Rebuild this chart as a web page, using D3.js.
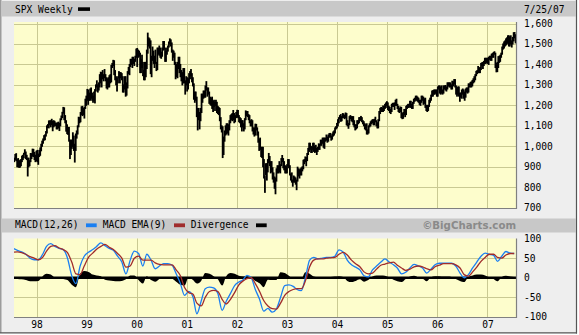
<!DOCTYPE html>
<html>
<head>
<meta charset="utf-8">
<script src="https://cdn.jsdelivr.net/npm/d3@7/dist/d3.min.js"></script>
<style>
  html, body { margin: 0; padding: 0; background: #ffffff; }
  svg { display: block; }
  text { font-family: "DejaVu Sans Mono", monospace; font-size: 9.6px; fill: #000; }
</style>
</head>
<body>
<svg id="chart" width="579" height="335"></svg>
<script>
// Weekly high / low of the S&P 500, one entry per week (weeks ending Fri 7/25/97 ... 7/27/07)
const weeklyHigh = [
  // 1997
  942,960,964,935,940,928,932,935,952,956,966,983,972,956,942,942,930,965,964,986,985,970,956,
  // 1998
  976,980,962,980,992,1010,1025,1036,1052,1056,1072,1100,1106,1124,1124,1125,1132,1122,1125,1122,1114,1112,
  1115,1118,1112,1134,1148,1166,1190,1188,1150,1125,1105,1092,1092,1030,1030,1030,1066,1050,1010,1060,1075,
  1100,1142,1140,1165,1193,1195,1185,1190,1230,
  // 1999
  1245,1278,1275,1260,1280,1285,1260,1245,1265,1277,1300,1320,1300,1310,1350,1362,1360,1370,1350,1375,1350,
  1335,1330,1335,1345,1350,1395,1405,1420,1418,1370,1340,1330,1340,1365,1360,1360,1355,1340,1300,1340,1340,
  1310,1365,1385,1400,1425,1425,1435,1435,1425,1440,1475,
  // 2000
  1478,1470,1465,1455,1425,1445,1410,1370,1410,1410,1470,1553,1530,1525,1515,1440,1485,1465,1440,1470,1410,
  1480,1480,1490,1480,1460,1480,1512,1512,1480,1465,1480,1490,1510,1525,1520,1505,1470,1465,1455,1410,1400,
  1410,1435,1435,1400,1370,1360,1380,1380,1320,1340,
  // 2001
  1335,1330,1355,1365,1375,1355,1335,1305,1265,1265,1240,1185,1185,1165,1185,1255,1255,1270,1270,1295,1316,
  1285,1285,1265,1240,1235,1240,1220,1225,1215,1225,1215,1195,1190,1185,1140,1100,1095,1045,1075,1100,1110,
  1110,1105,1125,1150,1155,1160,1175,1160,1150,1165,
  // 2002
  1176,1175,1150,1140,1135,1125,1125,1110,1135,1173,1170,1170,1155,1150,1125,1130,1125,1090,1090,1108,1107,
  1090,1070,1035,1040,995,995,995,935,855,915,915,935,965,950,925,925,895,870,850,845,890,905,905,925,910,
  940,955,940,925,905,900,
  // 2003
  910,935,935,905,865,870,835,855,850,845,835,898,890,885,890,895,900,932,935,948,945,965,990,1015,1015,1000,
  995,1015,1015,1000,1005,990,995,1012,1010,1030,1030,1040,1040,1040,1040,1055,1045,1055,1062,1063,1050,1060,
  1070,1075,1090,1096,
  // 2004
  1112,1130,1140,1150,1155,1145,1160,1158,1151,1163,1160,1125,1112,1145,1150,1145,1145,1145,1125,1105,1105,
  1125,1125,1140,1140,1146,1140,1125,1120,1110,1105,1110,1080,1100,1110,1120,1125,1130,1130,1132,1142,1125,
  1115,1130,1170,1185,1190,1185,1197,1195,1205,1212,1218,
  // 2005
  1212,1195,1190,1180,1205,1210,1210,1212,1225,1230,1205,1195,1185,1192,1190,1160,1165,1180,1180,1195,1200,
  1205,1205,1220,1220,1205,1215,1230,1235,1245,1245,1240,1235,1225,1225,1245,1245,1240,1232,1235,1200,1200,
  1200,1225,1235,1250,1270,1272,1275,1275,1275,1275,
  // 2006
  1290,1295,1295,1290,1295,1275,1295,1295,1297,1290,1310,1310,1310,1310,1300,1318,1315,1326,1326,1295,1285,
  1290,1290,1260,1260,1275,1280,1275,1265,1280,1285,1285,1305,1305,1312,1315,1322,1330,1340,1350,1366,1370,
  1390,1382,1385,1405,1408,1410,1415,1430,1430,1430,
  // 2007
  1430,1435,1440,1440,1450,1453,1458,1462,1455,1405,1410,1438,1440,1445,1455,1485,1500,1510,1515,1525,1530,
  1540,1540,1535,1540,1515,1532,1555,1556,1545
];
const weeklyLow = [
  // 1997
  925,935,930,900,900,897,898,905,925,935,944,962,940,935,855,900,905,925,940,952,950,935,925,
  // 1998
  930,925,912,950,956,978,1000,1015,1030,1032,1050,1065,1092,1090,1105,1095,1105,1076,1095,1100,1102,1085,
  1085,1090,1077,1100,1130,1140,1162,1130,1115,1074,1062,1058,1025,940,960,990,1000,980,923,980,1040,
  1060,1095,1115,1120,1155,1150,1155,1138,1185,
  // 1999
  1200,1225,1205,1225,1225,1235,1225,1215,1225,1212,1270,1290,1265,1275,1290,1310,1290,1330,1320,1335,1320,
  1285,1280,1290,1290,1310,1315,1385,1395,1350,1325,1300,1270,1310,1335,1310,1335,1325,1265,1265,1280,1245,
  1250,1285,1355,1350,1390,1400,1385,1405,1395,1415,1435,
  // 2000
  1390,1435,1440,1360,1360,1385,1345,1325,1325,1340,1380,1455,1490,1480,1355,1340,1420,1405,1385,1405,1370,
  1375,1450,1445,1435,1430,1440,1470,1475,1415,1415,1450,1465,1485,1500,1490,1460,1420,1435,1400,1330,1340,
  1335,1380,1360,1340,1320,1300,1310,1310,1255,1300,
  // 2001
  1270,1280,1310,1330,1345,1315,1295,1230,1215,1225,1145,1080,1130,1085,1125,1165,1215,1235,1240,1240,1275,
  1245,1255,1210,1205,1200,1185,1170,1195,1175,1200,1165,1160,1155,1125,1085,1070,945,960,1025,1055,1060,
  1065,1055,1080,1115,1130,1125,1130,1115,1120,1140,
  // 2002
  1145,1140,1120,1115,1095,1075,1095,1075,1085,1130,1150,1145,1130,1115,1100,1100,1075,1060,1050,1055,1080,
  1055,1020,980,985,950,945,900,845,775,860,835,875,920,905,870,875,840,825,795,768,830,870,870,875,870,
  905,925,895,885,870,870,
  // 2003
  870,905,895,860,835,825,805,825,825,815,788,830,855,845,860,860,880,890,915,925,905,930,960,975,985,970,
  970,985,975,970,975,960,975,985,985,1005,1005,1015,995,990,1025,1030,1020,1025,1045,1045,1030,1035,
  1050,1055,1065,1085,
  // 2004
  1090,1100,1115,1135,1122,1125,1140,1140,1135,1140,1105,1100,1088,1105,1135,1125,1120,1105,1095,1080,1085,
  1090,1110,1115,1125,1130,1120,1110,1100,1085,1080,1060,1060,1065,1095,1100,1110,1115,1105,1105,1120,1100,
  1090,1090,1125,1160,1170,1170,1170,1175,1185,1190,1200,
  // 2005
  1180,1175,1165,1160,1170,1195,1195,1180,1200,1200,1185,1170,1165,1170,1140,1135,1137,1155,1145,1155,1185,
  1190,1190,1195,1190,1185,1185,1210,1220,1225,1225,1220,1215,1205,1200,1215,1225,1205,1210,1190,1175,1170,
  1175,1195,1215,1225,1245,1245,1255,1255,1260,1245,
  // 2006
  1245,1280,1260,1255,1260,1255,1260,1280,1275,1270,1280,1295,1290,1290,1280,1280,1295,1305,1290,1255,1245,
  1255,1245,1220,1240,1235,1255,1235,1225,1240,1265,1260,1265,1290,1290,1290,1295,1310,1315,1325,1345,1355,
  1360,1360,1360,1375,1395,1380,1395,1405,1405,1410,
  // 2007
  1405,1400,1425,1420,1420,1435,1435,1450,1385,1364,1365,1385,1410,1415,1435,1450,1475,1480,1490,1495,1500,
  1505,1490,1490,1500,1485,1500,1515,1530,1505
];

// Monthly MACD(12,26), its 9-period EMA and the divergence, mid-month Jul 1997 ... Jul 2007
const macdLine = [
  75,70,66,60,50,46,
  46,60,80,87,80,75,72,50,5,-15,30,55,
  65,72,80,89,82,75,70,55,40,10,45,68,
  62,30,60,45,23,30,36,36,32,10,-15,-45,
  -35,-50,-92,-60,-28,-24,-26,-40,-83,-60,-40,-20,
  -11,-5,6,0,-30,-55,-85,-78,-88,-80,-50,-20,
  -18,-22,-30,-33,0,45,52,48,50,52,52,55,
  71,65,45,33,27,20,5,2,20,30,40,48,
  40,33,25,10,14,25,34,30,25,12,22,33,
  37,37,37,37,30,12,0,8,25,40,55,63,
  60,57,42,55,67,63,62
];
const macdSignal = [
  65,66,64,60,54,50,
  46,52,68,80,82,76,72,64,40,10,8,30,
  52,63,73,80,85,78,72,62,50,27,30,50,
  55,45,45,45,38,34,33,33,33,20,5,-25,
  -38,-42,-65,-72,-50,-35,-32,-35,-55,-67,-55,-38,
  -18,-8,-2,0,-15,-35,-58,-72,-79,-80,-65,-45,
  -35,-30,-28,-28,-8,28,45,48,48,50,51,52,
  60,65,58,45,36,28,15,10,12,22,32,35,
  38,40,32,25,19,22,28,30,28,23,20,28,
  32,36,36,36,33,25,8,4,15,27,42,52,
  60,60,52,50,58,62,62
];
const macdDivergence = [
  -1,-3,-4,-6,-9,-9,
  -8,4,10,8,0,-2,-3,-6,-18,-24,10,17,
  15,8,6,4,-5,-7,-8,-9,-8,-4,6,6,
  -6,-15,4,-6,-10,-3,2,2,-2,-10,-18,-20,
  2,-6,-15,-8,12,10,4,-4,-20,4,12,10,
  5,3,4,0,-8,-14,-24,-5,-6,-6,14,12,
  5,-3,-3,-3,14,10,3,1,1,2,2,3,
  4,2,-8,-11,-8,-4,-10,-6,3,6,6,5,
  1,-5,-9,-11,-3,3,5,1,-2,-9,1,4,
  4,3,3,2,-3,-8,-11,2,6,8,8,6,
  1,-3,-9,2,5,3,2
];

const priceTicks = [1600,1500,1400,1300,1200,1100,1000,900,800,700];
const priceTickLabels = ["1,600","1,500","1,400","1,300","1,200","1,100","1,000","900","800","700"];
const macdTicks = [100,50,0,-50,-100];
const macdTickLabels = ["100","50","0","-50","-100"];
const yearStarts = [1998,1999,2000,2001,2002,2003,2004,2005,2006,2007];
const yearLabels = ["98","99","00","01","02","03","04","05","06","07"];

const svg = d3.select("#chart");

// panel frame
svg.append("rect").attr("x", 0).attr("y", 0).attr("width", 577).attr("height", 333).attr("fill", "#eeeeee");
svg.append("line").attr("x1", 0.75).attr("x2", 0.75).attr("y1", 0).attr("y2", 333).attr("stroke", "#9c9c9c").attr("stroke-width", 1.5);
svg.append("line").attr("x1", 576.5).attr("x2", 576.5).attr("y1", 0).attr("y2", 333.5).attr("stroke", "#555").attr("stroke-width", 1.2);
svg.append("line").attr("x1", 0).attr("x2", 577).attr("y1", 332.8).attr("y2", 332.8).attr("stroke", "#555").attr("stroke-width", 1.2);

// title bands
svg.append("rect").attr("x", 1.5).attr("y", 1).attr("width", 574.5).attr("height", 15.5).attr("fill", "#c8c8c8");
svg.append("rect").attr("x", 1.5).attr("y", 218.5).attr("width", 574.5).attr("height", 14).attr("fill", "#c8c8c8");

const left = 14, right = 516;
const priceTop = 22, priceBottom = 208;
const macdTop = 238.5, macdBottom = 317;

const x = d3.scaleTime()
  .domain([new Date(1997, 6, 21), new Date(2007, 6, 28)])
  .range([left, right]);
const yPrice = d3.scaleLinear().domain([700, 1600]).range([207.7, 23.5]);
const yMacd = d3.scaleLinear().domain([-100, 100]).range([316.9, 238.6]);

const gridColor = "#c9c993";

function plotFrame(top, bottom, yScale, ticks, id) {
  svg.append("rect").attr("x", left).attr("y", top).attr("width", right - left).attr("height", bottom - top)
    .attr("fill", "#fdfdcc");
  const g = svg.append("g");
  g.selectAll("line.h").data(ticks.filter(t => yScale(t) > top + 1 && yScale(t) < bottom - 1)).join("line")
    .attr("x1", left).attr("x2", right)
    .attr("y1", d => Math.round(yScale(d)) + 0.5).attr("y2", d => Math.round(yScale(d)) + 0.5)
    .attr("stroke", gridColor).attr("stroke-width", 1);
  g.selectAll("line.v").data(yearStarts).join("line")
    .attr("x1", d => Math.round(x(new Date(d, 0, 1))) + 0.5).attr("x2", d => Math.round(x(new Date(d, 0, 1))) + 0.5)
    .attr("y1", top).attr("y2", bottom)
    .attr("stroke", gridColor).attr("stroke-width", 1);
  svg.append("clipPath").attr("id", id).append("rect")
    .attr("x", left).attr("y", top).attr("width", right - left).attr("height", bottom - top);
}

function plotEdges(top, bottom) {
  svg.append("line").attr("x1", left).attr("x2", right + 1).attr("y1", bottom + 0.5).attr("y2", bottom + 0.5)
    .attr("stroke", "#808080").attr("stroke-width", 1.2);
  svg.append("line").attr("x1", right + 0.5).attr("x2", right + 0.5).attr("y1", top).attr("y2", bottom + 1)
    .attr("stroke", "#808080").attr("stroke-width", 1.2);
}

// price panel
plotFrame(priceTop, priceBottom, yPrice, priceTicks, "clipPrice");
const weekDates = weeklyHigh.map((_, i) => new Date(1997, 6, 23 + 7 * i));
svg.append("g").attr("clip-path", "url(#clipPrice)")
  .selectAll("rect").data(weeklyHigh).join("rect")
  .attr("x", (d, i) => x(weekDates[i]) - 0.9)
  .attr("width", 1.8)
  .attr("y", d => yPrice(d) - 0.5)
  .attr("height", (d, i) => Math.max(yPrice(weeklyLow[i]) - yPrice(d) + 1, 2))
  .attr("fill", "#000");
plotEdges(priceTop, priceBottom);

// MACD panel
plotFrame(macdTop, macdBottom, yMacd, [50, -50], "clipMacd");
const monthDates = macdLine.map((_, i) => new Date(1997, 6 + i, 15));
const gm = svg.append("g").attr("clip-path", "url(#clipMacd)");
gm.append("path")
  .datum(macdDivergence)
  .attr("d", d3.area().x((d, i) => x(monthDates[i])).y0(yMacd(0)).y1(d => yMacd(d)).curve(d3.curveMonotoneX))
  .attr("fill", "#000");
gm.append("line").attr("x1", left).attr("x2", right).attr("y1", yMacd(0)).attr("y2", yMacd(0))
  .attr("stroke", "#000").attr("stroke-width", 2.4);
const lineGen = d3.line().x((d, i) => x(monthDates[i])).y(d => yMacd(d)).curve(d3.curveMonotoneX);
gm.append("path").datum(macdLine).attr("d", lineGen)
  .attr("fill", "none").attr("stroke", "#1a7ff2").attr("stroke-width", 1.3);
gm.append("path").datum(macdSignal).attr("d", lineGen)
  .attr("fill", "none").attr("stroke", "#a02c2c").attr("stroke-width", 1.3);
plotEdges(macdTop, macdBottom);

// right-hand axes
svg.append("g").selectAll("text").data(priceTicks).join("text")
  .attr("x", 524).attr("y", d => yPrice(d) + 3.5)
  .text((d, i) => priceTickLabels[i]);
svg.append("g").selectAll("text").data(macdTicks).join("text")
  .attr("x", 524).attr("y", d => yMacd(d) + 3.5)
  .text((d, i) => macdTickLabels[i]);

// year axis
svg.append("g").selectAll("text").data(yearStarts).join("text")
  .attr("x", d => x(new Date(d, 0, 1)) + 0.5).attr("y", 327.6)
  .attr("text-anchor", "middle")
  .text((d, i) => yearLabels[i]);

// headers and legends
svg.append("text").attr("x", 15).attr("y", 12.8).text("SPX Weekly");
svg.append("rect").attr("x", 78).attr("y", 7.3).attr("width", 12).attr("height", 3.6).attr("fill", "#000");
svg.append("text").attr("x", 524).attr("y", 12.8).text("7/25/07");

const legendY = 228.4;
svg.append("text").attr("x", 15).attr("y", legendY).text("MACD(12,26)");
svg.append("rect").attr("x", 86).attr("y", 223.4).attr("width", 10.7).attr("height", 3.8).attr("fill", "#1a7ff2");
svg.append("text").attr("x", 102.7).attr("y", legendY).text("MACD EMA(9)");
svg.append("rect").attr("x", 174).attr("y", 223.4).attr("width", 11).attr("height", 3.8).attr("fill", "#a02c2c");
svg.append("text").attr("x", 190.7).attr("y", legendY).text("Divergence");
svg.append("rect").attr("x", 256).attr("y", 223.4).attr("width", 10.7).attr("height", 3.8).attr("fill", "#000");
svg.append("text").attr("x", 516).attr("y", legendY + 0.3).attr("text-anchor", "end")
  .style("font-family", "'DejaVu Sans', sans-serif").style("font-weight", "bold").style("font-size", "10.2px")
  .style("fill", "#8a8a8a")
  .text("©BigCharts.com");
</script>
</body>
</html>
